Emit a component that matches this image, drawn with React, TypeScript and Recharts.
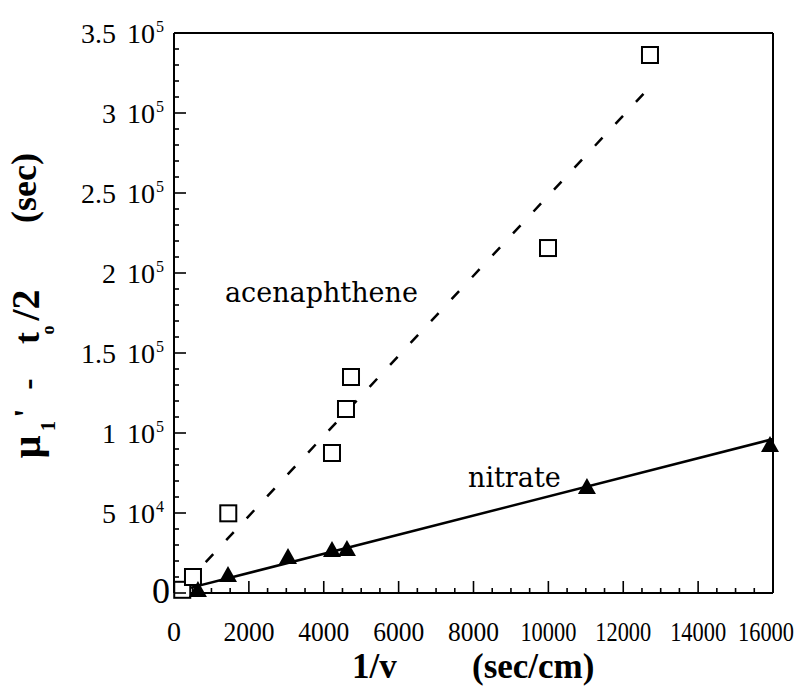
import React from 'react';
import { ScatterChart, Scatter, XAxis, YAxis, Customized } from 'recharts';

// ---- data ----
const acenaphthenePoints = [
  { x: 220, y: 2000 },
  { x: 507, y: 10000 },
  { x: 1450, y: 49800 },
  { x: 4220, y: 87500 },
  { x: 4594, y: 115000 },
  { x: 4728, y: 135000 },
  { x: 9990, y: 215600 },
  { x: 12714, y: 336250 },
];

const nitratePoints = [
  { x: 640, y: 1900 },
  { x: 1442, y: 11250 },
  { x: 3045, y: 22500 },
  { x: 4220, y: 26900 },
  { x: 4620, y: 27500 },
  { x: 11030, y: 66250 },
  { x: 15920, y: 92500 },
];

const acenaphtheneFit = [
  { x: 300, y: 5600 },
  { x: 12550, y: 312200 },
];

const nitrateFit = [
  { x: 300, y: 2400 },
  { x: 16000, y: 96200 },
];

const xTicks = [
  0, 500, 1000, 1500, 2000, 2500, 3000, 3500, 4000, 4500, 5000, 5500, 6000, 6500, 7000, 7500, 8000,
  8500, 9000, 9500, 10000, 10500, 11000, 11500, 12000, 12500, 13000, 13500, 14000, 14500, 15000,
  15500, 16000,
];
const xLabelValues = [0, 2000, 4000, 6000, 8000, 10000, 12000, 14000, 16000];

const yTicks = [
  0, 10000, 20000, 30000, 40000, 50000, 60000, 70000, 80000, 90000, 100000, 110000, 120000, 130000,
  140000, 150000, 160000, 170000, 180000, 190000, 200000, 210000, 220000, 230000, 240000, 250000,
  260000, 270000, 280000, 290000, 300000, 310000, 320000, 330000, 340000, 350000,
];
const yLabelValues = [0, 50000, 100000, 150000, 200000, 250000, 300000, 350000];
const yLabelMantissa = ['0', '5', '1', '1.5', '2', '2.5', '3', '3.5'];
const yLabelExponent = ['', '4', '5', '5', '5', '5', '5', '5'];

const SERIF = 'Liberation Serif';
const NOTE_FONT = 'DejaVu Serif';

const MAJOR = 12;
const MINOR = 5;

const BottomTick = (props: any) => {
  const { x, y, payload } = props;
  const v = payload.value;
  const major = xLabelValues.includes(v);
  const label = String(v);
  const len = label.length === 5 ? 56 : label.length === 4 ? 51 : undefined;
  const lx = v === 16000 ? x - 7 : x;
  return (
    <g>
      <line x1={x} x2={x} y1={y} y2={y - (major ? MAJOR : MINOR)} stroke="#000" strokeWidth={1.6} />
      {major && (
        <text
          x={lx}
          y={y + 48}
          textAnchor="middle"
          fontFamily={SERIF}
          fontSize={28}
          fill="#000"
          {...(len ? { textLength: len, lengthAdjust: 'spacingAndGlyphs' } : {})}
        >
          {label}
        </text>
      )}
    </g>
  );
};

const TopTick = (props: any) => {
  const { x, y, payload } = props;
  const major = xLabelValues.includes(payload.value);
  return <line x1={x} x2={x} y1={y} y2={y + (major ? MAJOR : MINOR)} stroke="#000" strokeWidth={1.6} />;
};

const LeftTick = (props: any) => {
  const { x, y, payload } = props;
  const v = payload.value;
  const idx = yLabelValues.indexOf(v);
  const major = idx >= 0;
  return (
    <g>
      <line x1={x} x2={x + (major ? MAJOR : MINOR)} y1={y} y2={y} stroke="#000" strokeWidth={1.6} />
      {major && v === 0 && (
        <text x={x - 4} y={y + 10} textAnchor="end" fontFamily={SERIF} fontSize={36} fill="#000">
          {yLabelMantissa[idx]}
        </text>
      )}
      {major && v !== 0 && (
        <g fontFamily={SERIF} fill="#000">
          <text x={x - 58} y={y + 9.5} textAnchor="end" fontSize={28}>
            {yLabelMantissa[idx]}
          </text>
          <text x={x - 19} y={y + 9.5} textAnchor="end" fontSize={28}>
            10
          </text>
          <text x={x - 18} y={y - 1} textAnchor="start" fontSize={16}>
            {yLabelExponent[idx]}
          </text>
        </g>
      )}
    </g>
  );
};

const RightTick = (props: any) => {
  const { x, y, payload } = props;
  const major = yLabelValues.includes(payload.value);
  return <line x1={x} x2={x - (major ? MAJOR : MINOR)} y1={y} y2={y} stroke="#000" strokeWidth={1.6} />;
};

const SquareShape = (props: any) => {
  const { cx, cy } = props;
  return <rect x={cx - 8} y={cy - 8} width={16} height={16} fill="#fff" stroke="#000" strokeWidth={2} />;
};

const TriangleShape = (props: any) => {
  const { cx, cy } = props;
  return <polygon points={`${cx},${cy - 9} ${cx - 9},${cy + 7} ${cx + 9},${cy + 7}`} fill="#000" />;
};

const NoShape = () => <g />;

const rot = (cy: number, bx: number) => `translate(${bx},${cy}) rotate(-90)`;

const Annotations = () => (
  <g>
    <text x={225} y={302} fontFamily={NOTE_FONT} fontSize={27} fill="#000">acenaphthene</text>
    <text x={468} y={487} fontFamily={NOTE_FONT} fontSize={27} fill="#000">nitrate</text>

    {/* x axis title */}
    <text x={352} y={678} fontFamily={SERIF} fontWeight="bold" fontSize={35} fill="#000">1/v</text>
    <text x={472} y={678} fontFamily={SERIF} fontWeight="bold" fontSize={35} fill="#000">(sec/cm)</text>

    {/* y axis title */}
    <g fontFamily={SERIF} fontWeight="bold" fill="#000">
      <text transform={rot(447, 40)} textAnchor="middle" fontSize={40}>μ</text>
      <text transform={rot(426, 55)} textAnchor="middle" fontSize={20}>1</text>
      <text transform={rot(413, 37)} textAnchor="middle" fontSize={34}>'</text>
      <text transform={rot(384, 39)} textAnchor="middle" fontSize={34}>-</text>
      <text transform={rot(338, 39)} textAnchor="middle" fontSize={36}>t</text>
      <text transform={rot(330, 54)} textAnchor="middle" fontSize={18}>o</text>
      <text transform={rot(305, 39)} textAnchor="middle" fontSize={40}>/2</text>
      <text transform={rot(188, 36)} textAnchor="middle" fontSize={36}>(sec)</text>
    </g>
  </g>
);

const axisLine = { stroke: '#000', strokeWidth: 2 };

export default function App() {
  return (
    <div style={{ position: 'absolute', left: 0, top: 0, width: 811, height: 694, background: '#fff' }}>
      <ScatterChart width={811} height={694} margin={{ top: 0, right: 0, bottom: 0, left: 0 }}>
        <XAxis
          type="number"
          dataKey="x"
          domain={[0, 16000]}
          ticks={xTicks}
          interval={0}
          height={101}
          axisLine={axisLine}
          tickLine={false}
          tickSize={0}
          tickMargin={0}
          tick={(p: any) => <BottomTick {...p} />}
        />
        <XAxis
          xAxisId="top"
          orientation="top"
          type="number"
          dataKey="x"
          domain={[0, 16000]}
          ticks={xTicks}
          interval={0}
          height={33}
          axisLine={axisLine}
          tickLine={false}
          tickSize={0}
          tickMargin={0}
          tick={(p: any) => <TopTick {...p} />}
        />
        <YAxis
          type="number"
          dataKey="y"
          domain={[0, 350000]}
          ticks={yTicks}
          interval={0}
          width={174}
          axisLine={axisLine}
          tickLine={false}
          tickSize={0}
          tickMargin={0}
          tick={(p: any) => <LeftTick {...p} />}
        />
        <YAxis
          yAxisId="right"
          orientation="right"
          type="number"
          dataKey="y"
          domain={[0, 350000]}
          ticks={yTicks}
          interval={0}
          width={38}
          axisLine={axisLine}
          tickLine={false}
          tickSize={0}
          tickMargin={0}
          tick={(p: any) => <RightTick {...p} />}
        />
        <Scatter
          data={acenaphtheneFit}
          line={{ stroke: '#000', strokeWidth: 2.5, strokeDasharray: '11 19' }}
          shape={NoShape}
          isAnimationActive={false}
        />
        <Scatter
          data={nitrateFit}
          line={{ stroke: '#000', strokeWidth: 2.5 }}
          shape={NoShape}
          isAnimationActive={false}
        />
        <Scatter data={acenaphthenePoints} shape={SquareShape} isAnimationActive={false} />
        <Scatter data={nitratePoints} shape={TriangleShape} isAnimationActive={false} />
        <Customized component={Annotations} />
      </ScatterChart>
    </div>
  );
}
